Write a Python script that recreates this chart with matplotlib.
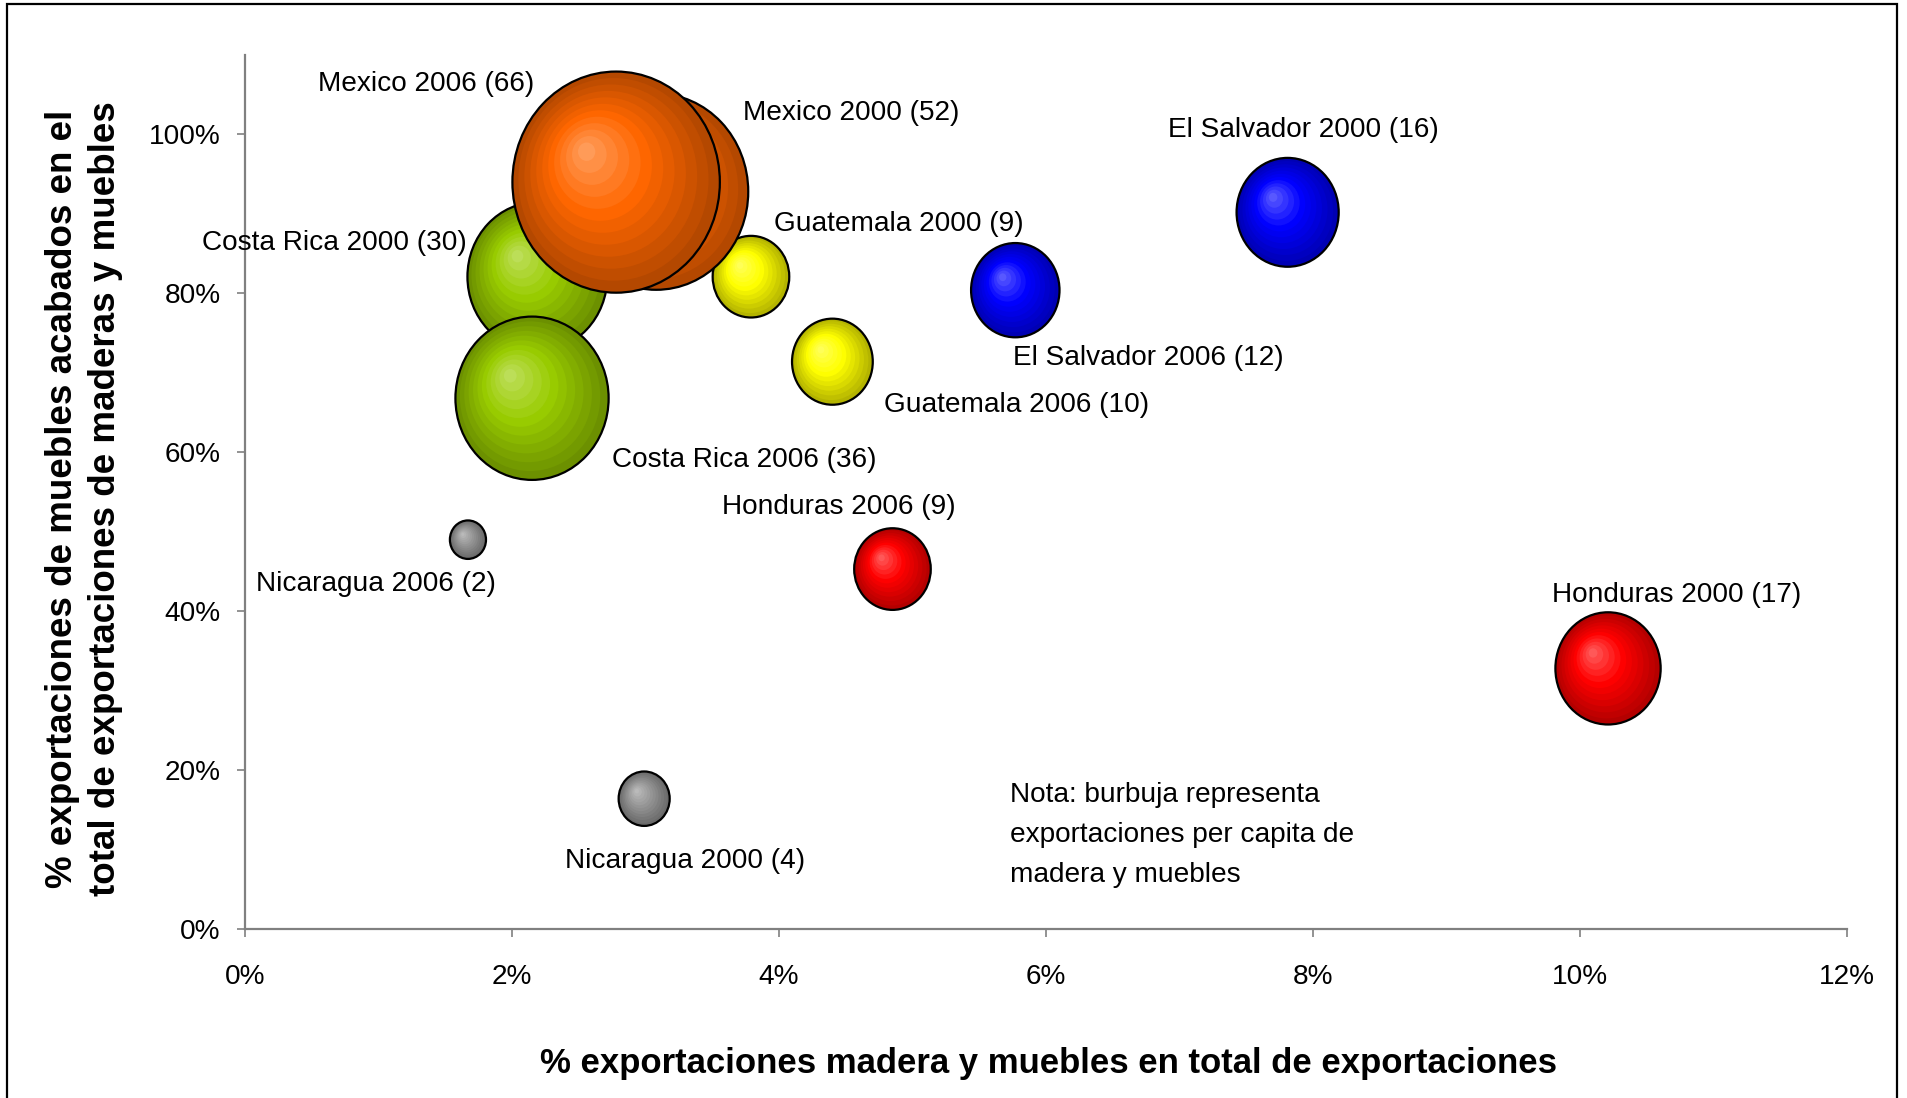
import numpy as np
import matplotlib
matplotlib.use("Agg")
import matplotlib.pyplot as plt
from matplotlib.patches import Ellipse, Rectangle
from matplotlib.ticker import FixedLocator, PercentFormatter
import matplotlib.colors as mcolors

# ---------------- data ----------------
countries = ["Nicaragua", "Nicaragua", "Honduras", "Honduras",
             "Guatemala", "Guatemala", "El Salvador", "El Salvador",
             "Costa Rica", "Costa Rica", "Mexico", "Mexico"]
years = [2000, 2006, 2000, 2006, 2000, 2006, 2000, 2006, 2000, 2006, 2000, 2006]
share_total = [0.0299, 0.0167, 0.1021, 0.0485, 0.0379, 0.0440,
               0.0781, 0.0577, 0.0219, 0.0215, 0.0308, 0.0278]
share_finished = [0.164, 0.490, 0.328, 0.453, 0.821, 0.714,
                  0.902, 0.804, 0.821, 0.668, 0.928, 0.940]
per_capita = [4, 2, 17, 9, 9, 10, 16, 12, 30, 36, 52, 66]

x_ticks = [0, 0.02, 0.04, 0.06, 0.08, 0.10, 0.12]
y_ticks = [0, 0.2, 0.4, 0.6, 0.8, 1.0]

note_lines = ["Nota: burbuja representa", "exportaciones per capita de",
              "madera y muebles"]

country_colors = {"Nicaragua": "#969696", "Honduras": "#FF0000",
                  "Guatemala": "#FFFF00", "El Salvador": "#0000FF",
                  "Costa Rica": "#99CC00", "Mexico": "#FF6600"}

# label placement (pixel offsets from bubble centre) - layout only
label_offsets = [(41, -62), (-92, -44), (69, 73), (-54, 62),
                 (148, 53), (184, -43), (16, 82), (133, -68),
                 (-203, 34), (212, -62), (195, 79), (-190, 98)]

W, H = 1907, 1098
DPI = 100
plt.rcParams['font.family'] = ['Liberation Sans', 'DejaVu Sans']
FS = 20.2

fig = plt.figure(figsize=(W / DPI, H / DPI), dpi=DPI)
ax_l, ax_r, ax_t, ax_b = 245, 1847, 55, 929
ax = fig.add_axes([ax_l / W, 1 - ax_b / H, (ax_r - ax_l) / W, (ax_b - ax_t) / H])
ax.set_xlim(0, 0.12)
ax.set_ylim(0, 1.1)

for s in ["top", "right"]:
    ax.spines[s].set_visible(False)
for s in ["left", "bottom"]:
    ax.spines[s].set_color("#808080")
    ax.spines[s].set_linewidth(1.6)
ax.xaxis.set_major_locator(FixedLocator(x_ticks))
ax.yaxis.set_major_locator(FixedLocator(y_ticks))
ax.xaxis.set_major_formatter(PercentFormatter(xmax=1, decimals=0))
ax.yaxis.set_major_formatter(PercentFormatter(xmax=1, decimals=0))
ax.tick_params(axis="both", direction="out", length=6, width=1.2,
               color="#808080", labelsize=FS, labelcolor="black")
ax.tick_params(axis="x", pad=19.5)
ax.tick_params(axis="y", pad=11.5)

# pixel -> data conversion
px_x = (ax_r - ax_l) / 0.12
px_y = (ax_b - ax_t) / 1.1
k_area = 163.0      # px^2 per unit of bubble size
stretch = 1.066     # vertical stretch of the reference rendering


def shade(base, t):
    b = np.array(mcolors.to_rgb(base))
    edge = b * 0.68
    hi = b + (1 - b) * 0.38
    if t < 0.55:
        c = edge + (b - edge) * (t / 0.55)
    else:
        c = b + (hi - b) * ((t - 0.55) / 0.45)
    return np.clip(c, 0, 1)


N = 12
z = 2
for i in range(len(countries)):
    cx, cy = share_total[i], share_finished[i]
    rx_px = np.sqrt(k_area * per_capita[i])
    ry_px = rx_px * stretch
    base = country_colors[countries[i]]
    offx, offy = -0.31 * rx_px, 0.30 * ry_px
    for k in range(N):
        t = k / N
        ccx = cx + t * offx / px_x
        ccy = cy + t * offy / px_y
        w = 2 * rx_px * (1 - t) / px_x
        h = 2 * ry_px * (1 - t) / px_y
        e = Ellipse((ccx, ccy), w, h, facecolor=shade(base, t + 0.5 / N),
                    edgecolor="none", zorder=z)
        ax.add_patch(e)
        z += 0.001
    ax.add_patch(Ellipse((cx, cy), 2 * rx_px / px_x, 2 * ry_px / px_y,
                         facecolor="none", edgecolor="black", linewidth=1.6,
                         zorder=z))
    z += 0.01

for i in range(len(countries)):
    ax.annotate(f"{countries[i]} {years[i]} ({per_capita[i]})",
                xy=(share_total[i], share_finished[i]),
                xytext=label_offsets[i], textcoords="offset pixels",
                ha="center", va="center", fontsize=FS, zorder=50)

for j, line in enumerate(note_lines):
    ax.text(0.4778, 0.1536 - j * 0.0460, line, transform=ax.transAxes,
            ha="left", va="center", fontsize=FS)

fig.text(1049 / W, 1 - 1064 / H, "% exportaciones madera y muebles en total de exportaciones",
         ha="center", va="center", fontsize=25, fontweight="bold")
fig.text(84 / W, 1 - 499 / H,
         "% exportaciones de muebles acabados en el\ntotal de exportaciones de maderas y muebles",
         ha="center", va="center", rotation=90, fontsize=26.5, fontweight="bold",
         linespacing=1.33)

fig.add_artist(Rectangle((7.5 / W, -0.02), (1897 - 7.5) / W, 1.02 - 3.5 / H,
                         transform=fig.transFigure, fill=False,
                         edgecolor="black", linewidth=1.6, clip_on=False))

fig.savefig("out.png", dpi=DPI)
